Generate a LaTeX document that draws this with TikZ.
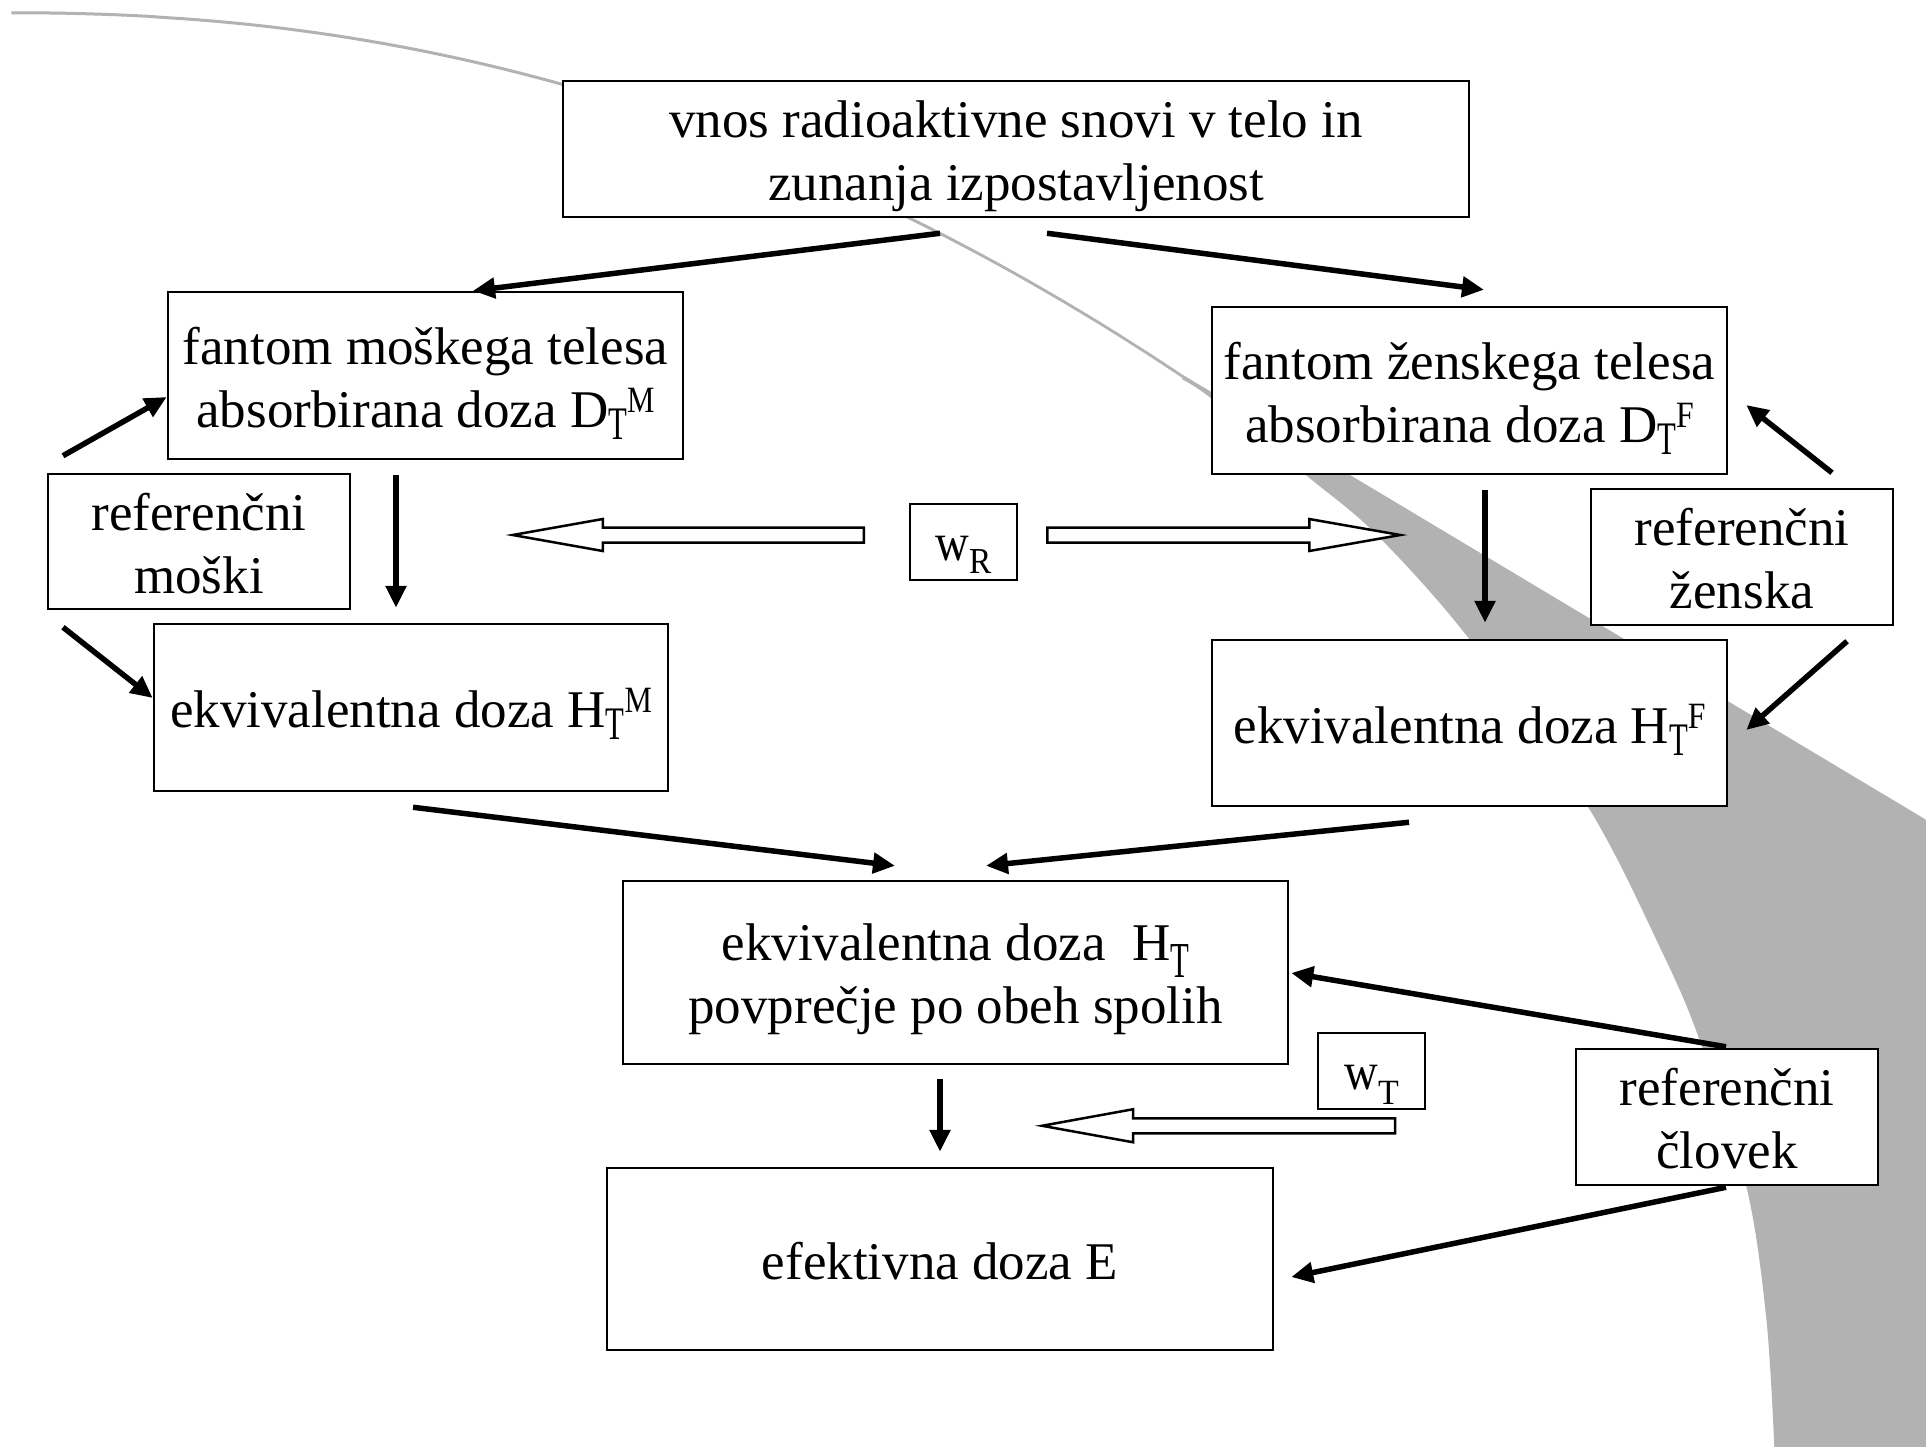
\documentclass[tikz,border=0pt]{standalone}
\usepackage{fontspec}
\setmainfont{Liberation Serif}
\usepackage{graphicx}
\usetikzlibrary{arrows.meta}
\definecolor{swooshgray}{RGB}{178,178,178}
\newcommand\lsub[4]{\raisebox{-#1pt}{\scalebox{#2}[#3]{#4}}}
\newcommand\lsup[4]{\raisebox{#1pt}{\scalebox{#2}[#3]{#4}}}
\newcommand\oneL[2]{\raisebox{#1pt}[0pt][0pt]{#2}}
\newcommand\twoL[3]{\raisebox{#1pt}[0pt][0pt]{\begin{tabular}[b]{@{}c@{}}#2\\#3\end{tabular}}}
\begin{document}
\begin{tikzpicture}[x=1pt,y=-1pt,
  every node/.style={font=\fontsize{53}{63}\selectfont},
  box/.style={draw, line width=2.5pt, fill=white, inner sep=0pt, rectangle},
  arr/.style={line width=5.5pt, -{Triangle[length=22pt,width=20pt]}},
  hol/.style={draw, line width=2.5pt, fill=white, line join=miter},
  swoosh/.style={fill=swooshgray, draw=swooshgray, line width=1.5pt}]
\useasboundingbox (0,0) rectangle (1926,1446);
\fill[white] (0,0) rectangle (1926,1446);
% background swoosh
\path[swoosh] plot[domain=12:1183, samples=70] (\x, {12+364*((\x-11)/1172)^2.155})
  -- (1935,826) -- (1940,1460) -- (1775,1460)
  -- plot[smooth, tension=0.55] coordinates {(1775,1446) (1767,1318) (1747,1186) (1700,1039) (1662,950) (1589,807) (1471,640) (1378,535) (1307,475) (1212,398) (1183,379)}
  -- plot[domain=1183:12, samples=70] (\x, {13.5+364*((\x-11)/1172)^2.155})
  -- cycle;
% boxes
\node[box, minimum width=906pt, minimum height=136pt] (top) at (1016,149)
  {\twoL{-51}{vnos radioaktivne snovi v telo in}{zunanja izpostavljenost}};
\node[box, minimum width=515pt, minimum height=167pt] (mph) at (425.5,375.5)
  {\twoL{-51.5}{fantom moškega telesa}{absorbirana doza D\lsub{12}{0.58}{0.88}{T}\lsup{15}{0.58}{0.7}{M}}};
\node[box, minimum width=515pt, minimum height=167pt] (fph) at (1469.5,390.5)
  {\twoL{-51.5}{fantom ženskega telesa}{absorbirana doza D\lsub{12}{0.58}{0.88}{T}\lsup{15}{0.6}{0.7}{F}}};
\node[box, minimum width=302pt, minimum height=135pt] (refM) at (199,541.5)
  {\twoL{-51.5}{referenčni}{moški}};
\node[box, minimum width=107pt, minimum height=76pt] (wR) at (963.5,542)
  {\oneL{-18}{\scalebox{0.88}[1.0]{w}\lsub{13}{0.63}{0.69}{R}}};
\node[box, minimum width=302pt, minimum height=136pt] (refF) at (1742,557)
  {\twoL{-51}{referenčni}{ženska}};
\node[box, minimum width=514pt, minimum height=167pt] (HTM) at (411,707.5)
  {\oneL{-20}{ekvivalentna doza H\lsub{12}{0.58}{0.88}{T}\lsup{15}{0.58}{0.7}{M}}};
\node[box, minimum width=515pt, minimum height=166pt] (HTF) at (1469.5,723)
  {\oneL{-20}{ekvivalentna doza H\lsub{12}{0.58}{0.88}{T}\lsup{15}{0.6}{0.7}{F}}};
\node[box, minimum width=665pt, minimum height=183pt] (HT) at (955.5,972.5)
  {\twoL{-50.5}{ekvivalentna doza~ H\lsub{17}{0.58}{0.95}{T}}{povprečje po obeh spolih}};
\node[box, minimum width=107pt, minimum height=76pt] (wT) at (1371.5,1071)
  {\oneL{-18}{\scalebox{0.88}[1.0]{w}\lsub{15}{0.64}{0.67}{T}}};
\node[box, minimum width=302pt, minimum height=136pt] (refC) at (1727,1117)
  {\twoL{-51}{referenčni}{človek}};
\node[box, minimum width=666pt, minimum height=182pt] (E) at (940,1259)
  {\oneL{-20}{efektivna doza E}};
% connectors
\draw[arr] ([shift={(-76,15)}]top.south) -- ([shift={(47.5,0)}]mph.north);
\draw[arr] ([shift={(31,15)}]top.south) -- ([shift={(14.5,-16)}]fph.north);
\draw[arr] ([shift={(-136,-17)}]refM.north) -- ([shift={(0,21.5)}]mph.west);
\draw[arr] ([shift={(-136,17)}]refM.south) -- ([shift={(0,-9.5)}]HTM.west);
\draw[arr] ([shift={(-29.5,15)}]mph.south) -- ([shift={(-15,-15)}]HTM.north);
\draw[arr] ([shift={(15.5,15)}]fph.south) -- ([shift={(15.5,-16)}]HTF.north);
\draw[arr] ([shift={(90,-15)}]refF.north) -- ([shift={(18,14.5)}]fph.east);
\draw[arr] ([shift={(105,15)}]refF.south) -- ([shift={(18,7)}]HTF.east);
\draw[arr] ([shift={(2,15)}]HTM.south) -- ([shift={(-60.5,-14)}]HT.north);
\draw[arr] ([shift={(-60.5,15)}]HTF.south) -- ([shift={(30.5,-14)}]HT.north);
\draw[arr] ([shift={(-1,-1)}]refC.north) -- ([shift={(2,0.5)}]HT.east);
\draw[arr] ([shift={(-1,1)}]refC.south) -- ([shift={(17,18)}]E.east);
\draw[arr] ([shift={(-15.5,14)}]HT.south) -- ([shift={(0,-15)}]E.north);
% hollow weighting arrows
\draw[hol] ([shift={(-45,-14.5)}]wR.west) -- ++(-261,0) -- ++(0,-8.5) -- ++(-90,16) -- ++(90,16) -- ++(0,-8.5) -- ++(261,0) -- cycle;
\draw[hol] ([shift={(29,-14.5)}]wR.east) -- ++(262,0) -- ++(0,-8.5) -- ++(91,16) -- ++(-91,16) -- ++(0,-8.5) -- ++(-262,0) -- cycle;
\draw[hol] ([shift={(23.5,8)}]wT.south) -- ++(-262,0) -- ++(0,-9) -- ++(-91,16.5) -- ++(91,16.5) -- ++(0,-9) -- ++(262,0) -- cycle;
\end{tikzpicture}
\end{document}
